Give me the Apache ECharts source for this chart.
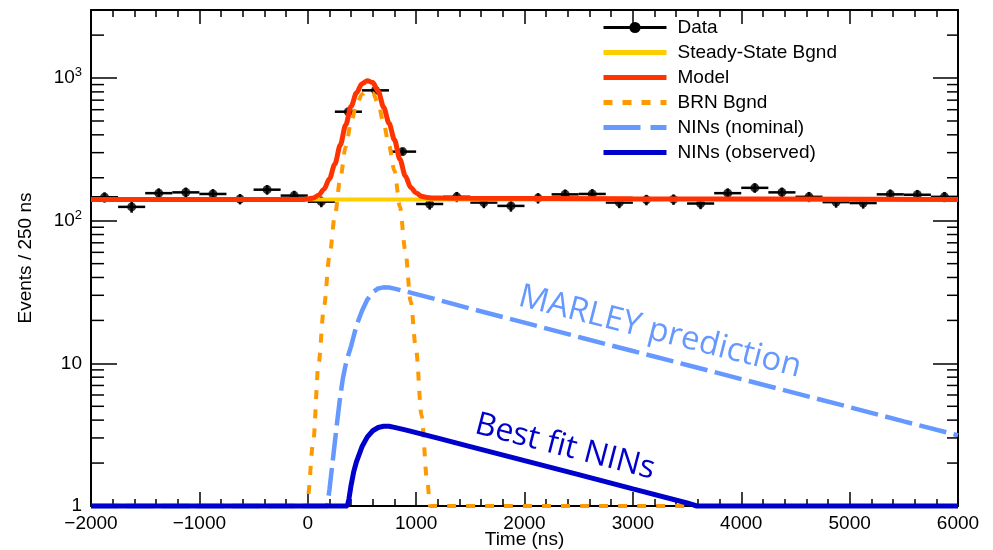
<!DOCTYPE html>
<html>
<head>
<meta charset="utf-8">
<script src="https://cdn.jsdelivr.net/npm/echarts@6/dist/echarts.min.js"></script>
<style>
  html, body { margin: 0; padding: 0; background: #fff; }
  #chart { width: 993px; height: 550px; }
</style>
</head>
<body>
<div id="chart"></div>
<script>
// Time axis range (ns) and event-count range
const X_MIN = -2000, X_MAX = 6000;
const Y_MIN = 1, Y_MAX = 3000;
const xTickStep = 1000;

// Data: 250 ns bins
const binCenters = [-1875, -1625, -1375, -1125, -875, -625, -375, -125,
  125, 375, 625, 875, 1125, 1375, 1625, 1875, 2125, 2375, 2625, 2875,
  3125, 3375, 3625, 3875, 4125, 4375, 4625, 4875, 5125, 5375, 5625, 5875];
const binHalfWidth = 125;
const dataCounts = [146, 125, 156, 158, 154, 142, 165, 150,
  136, 581, 820, 305, 131, 147, 134, 127, 144, 153, 154, 134,
  140, 141, 132, 156, 170, 158, 147, 135, 133, 153, 152, 147];
const dataErrors = [12.1, 11.2, 12.5, 12.6, 12.4, 11.9, 12.8, 12.2,
  11.7, 24.1, 28.6, 17.5, 11.4, 12.1, 11.6, 11.3, 12.0, 12.4, 12.4, 11.6,
  11.8, 11.9, 11.5, 12.5, 13.0, 12.6, 12.1, 11.6, 11.5, 12.4, 12.3, 12.1];

// Steady-state background
const steadyTime = [-2000, 6000];
const steadyValue = [141, 141];

// Full model
const modelTime = [-2000, -50, 0, 50, 100, 150, 200, 250, 300, 350, 400, 450, 500, 550,
  600, 650, 700, 750, 800, 850, 900, 950, 1000, 1050, 1100, 1150, 1200, 1500, 3000, 6000];
const modelValue = [141, 141, 142.2, 144, 151, 166, 197, 249, 339, 469, 634, 788, 913, 959,
  929, 809, 625, 482, 369, 270, 206, 171, 156.6, 148.5, 145.6, 144.5, 144, 143.6, 142.3, 141];

// Beam-related neutron background (floored at the axis minimum)
const brnTime = [-2000, -10, 0, 50, 100, 150, 200, 250, 300, 350, 400, 450, 500, 550,
  600, 650, 700, 750, 800, 850, 900, 950, 1000, 1050, 1100, 1130, 6000];
const brnValue = [1, 1, 1.15, 2.8, 10, 25, 56, 108, 198, 328, 492, 645, 770, 815,
  785, 665, 480, 337, 224, 126, 62, 27, 12.3, 4.3, 1.55, 1, 1];

// NINs, nominal prediction
const ninNomTime = [-2000, 180, 200, 225, 250, 275, 300, 325, 350, 375, 400, 450, 500, 550,
  600, 650, 700, 750, 800, 900, 1000, 1200, 1500, 2000, 2500, 3000, 3500, 4000, 4500, 5000, 5500, 6000];
const ninNomValue = [1, 1, 1.3, 1.9, 2.8, 4.1, 5.9, 7.9, 9.8, 11.5, 13.2, 18.5, 23.3, 28,
  31.5, 33.5, 34.1, 34, 33.4, 32, 30.6, 27.9, 24.2, 19.3, 15.3, 12.2, 9.74, 7.76, 6.18, 4.93, 3.92, 3.13];

// NINs, observed (best fit)
const ninObsTime = [-2000, 365, 380, 400, 425, 450, 500, 550, 600, 650, 700, 750, 800,
  900, 1000, 1200, 1500, 2000, 2500, 3000, 3500, 3590, 6000];
const ninObsValue = [1, 1, 1.12, 1.4, 1.75, 2.05, 2.6, 3.05, 3.37, 3.55, 3.62, 3.62, 3.56,
  3.42, 3.27, 2.99, 2.61, 2.08, 1.66, 1.32, 1.05, 1, 1];

// Minor tick values on the logarithmic axis
const yMinorTicks = [2, 3, 4, 5, 6, 7, 8, 9, 20, 30, 40, 50, 60, 70, 80, 90,
  200, 300, 400, 500, 600, 700, 800, 900, 2000];

const zip = (xs, ys) => xs.map((x, i) => [x, ys[i]]);

const FONT = 'Liberation Sans, Arial, Helvetica, sans-serif';
const BLACK = '#000';

const COLORS = {
  steady: '#ffcc00', model: '#ff3300', brn: '#ff9900', ninNom: '#6699ff', ninObs: '#0000cc'
};
const BRN_DASH = [9, 10];
const NOM_DASH = [37, 10];

const chart = echarts.init(document.getElementById('chart'), null, { renderer: 'canvas' });

function curve(name, xs, ys, color, width, dash, z, smooth) {
  return {
    name, type: 'line', data: zip(xs, ys),
    smooth: smooth || false, smoothMonotone: 'x', symbol: 'none', clip: false, z,
    lineStyle: { color, width, type: dash || 'solid', cap: 'butt' },
    itemStyle: { color }
  };
}

// legend line samples: no marker, thick strokes
const legendLine = (name, color, dash) => ({
  name,
  itemStyle: { opacity: 0 },
  lineStyle: { color, width: 5, type: dash || 'solid', opacity: 1 }
});

const option = {
  animation: false,
  backgroundColor: '#fff',
  textStyle: { fontFamily: FONT },
  grid: { left: 91, right: 35, top: 10, bottom: 44, containLabel: false, outerBoundsMode: 'none' },
  legend: {
    data: [
      { name: 'Data', lineStyle: { color: BLACK, width: 3, type: 'solid' } },
      legendLine('Steady-State Bgnd', COLORS.steady),
      legendLine('Model', COLORS.model),
      legendLine('BRN Bgnd', COLORS.brn, BRN_DASH),
      legendLine('NINs (nominal)', COLORS.ninNom, NOM_DASH),
      legendLine('NINs (observed)', COLORS.ninObs)
    ],
    orient: 'vertical',
    left: 596, top: 13,
    itemWidth: 63, itemHeight: 14, itemGap: 6,
    textStyle: { fontSize: 19, color: BLACK, fontFamily: FONT, padding: [0, 0, 0, 6] },
    selectedMode: false
  },
  xAxis: [{
    type: 'value', min: X_MIN, max: X_MAX, interval: xTickStep,
    name: 'Time (ns)', nameLocation: 'middle', nameGap: 24, nameMoveOverlap: false,
    nameTextStyle: { fontSize: 19, color: BLACK, fontFamily: FONT },
    axisLine: { show: true, onZero: false, lineStyle: { color: BLACK, width: 2 } },
    axisTick: { show: true, inside: true, length: 14, lineStyle: { color: BLACK, width: 1.5 } },
    minorTick: { show: true, splitNumber: 5, length: 7, lineStyle: { color: BLACK, width: 1.5 } },
    axisLabel: {
      fontSize: 19, color: BLACK, margin: 8, fontFamily: FONT,
      showMinLabel: true, showMaxLabel: true,
      formatter: v => String(v).replace('-', '\u2212')
    },
    splitLine: { show: false }
  }, {
    type: 'value', position: 'top', min: X_MIN, max: X_MAX, interval: xTickStep,
    axisLine: { show: true, onZero: false, lineStyle: { color: BLACK, width: 2 } },
    axisTick: { show: true, inside: true, length: 14, lineStyle: { color: BLACK, width: 1.5 } },
    minorTick: { show: true, splitNumber: 5, length: 7, lineStyle: { color: BLACK, width: 1.5 } },
    axisLabel: { show: false },
    splitLine: { show: false }
  }],
  yAxis: [{
    type: 'log', logBase: 10, min: Y_MIN, max: Y_MAX,
    name: 'Events / 250 ns', nameLocation: 'middle', nameRotate: 90, nameGap: 56, nameMoveOverlap: false,
    nameTextStyle: { fontSize: 19, color: BLACK, fontFamily: FONT },
    axisLine: { show: true, onZero: false, lineStyle: { color: BLACK, width: 2 } },
    axisTick: { show: true, inside: true, length: 26, lineStyle: { color: BLACK, width: 1.5 } },
    axisLabel: {
      fontSize: 19, color: BLACK, margin: 9, fontFamily: FONT,
      showMinLabel: true, showMaxLabel: true,
      formatter: v => {
        const e = Math.round(Math.log10(v));
        if (Math.abs(v - Math.pow(10, e)) > 1e-6 * v) return '';
        if (e === 0) return '1';
        if (e === 1) return '10';
        return '10{sup|' + e + '}';
      },
      rich: { sup: { fontSize: 13, verticalAlign: 'top', lineHeight: 24, color: BLACK, fontFamily: FONT } }
    },
    splitLine: { show: false }
  }, {
    type: 'log', logBase: 10, min: Y_MIN, max: Y_MAX, position: 'right',
    axisLine: { show: true, onZero: false, lineStyle: { color: BLACK, width: 2 } },
    axisTick: { show: true, inside: true, length: 25, lineStyle: { color: BLACK, width: 1.5 } },
    axisLabel: { show: false },
    splitLine: { show: false }
  }],
  graphic: [{
    type: 'text', x: 660, y: 332, rotation: -0.2496, z: 100,
    style: {
      text: 'MARLEY prediction', fill: COLORS.ninNom,
      font: '33px "Open Sans"', align: 'center', verticalAlign: 'middle',
      textAlign: 'center', textVerticalAlign: 'middle'
    }
  }, {
    type: 'text', x: 565, y: 447, rotation: -0.253, z: 100,
    style: {
      text: 'Best fit NINs', fill: COLORS.ninObs,
      font: '32px "Open Sans"', align: 'center', verticalAlign: 'middle',
      textAlign: 'center', textVerticalAlign: 'middle'
    }
  }],
  series: [
    // legend entry for the data
    {
      name: 'Data', type: 'line', data: [], symbol: 'circle', symbolSize: 9,
      itemStyle: { color: BLACK }, lineStyle: { color: BLACK, width: 3 }
    },
    // data error bars
    {
      type: 'custom', z: 1, clip: false,
      data: binCenters.map((t, i) => [t, dataCounts[i], dataErrors[i]]),
      renderItem: (params, api) => {
        const t = api.value(0), v = api.value(1), err = api.value(2);
        const l = api.coord([t - binHalfWidth, v]);
        const r = api.coord([t + binHalfWidth, v]);
        const lo = api.coord([t, v - err]);
        const hi = api.coord([t, v + err]);
        const st = { stroke: BLACK, lineWidth: 2.5 };
        return {
          type: 'group', children: [
            { type: 'line', shape: { x1: l[0], y1: l[1], x2: r[0], y2: r[1] }, style: st },
            { type: 'line', shape: { x1: lo[0], y1: lo[1], x2: hi[0], y2: hi[1] }, style: st }
          ]
        };
      }
    },
    // data points
    {
      type: 'scatter', z: 1, data: zip(binCenters, dataCounts),
      symbol: 'circle', symbolSize: 9, itemStyle: { color: BLACK }
    },
    curve('Steady-State Bgnd', steadyTime, steadyValue, COLORS.steady, 4, 'solid', 3),
    curve('Model', modelTime, modelValue, COLORS.model, 5, 'solid', 4, 0.3),
    curve('BRN Bgnd', brnTime, brnValue, COLORS.brn, 4, BRN_DASH, 5, 0.3),
    curve('NINs (nominal)', ninNomTime, ninNomValue, COLORS.ninNom, 4.5, NOM_DASH.map(d => d * 0.75), 6),
    curve('NINs (observed)', ninObsTime, ninObsValue, COLORS.ninObs, 5, 'solid', 7),
    // minor ticks of the log axis, left and right frame
    {
      type: 'custom', z: 10, clip: false, silent: true,
      data: yMinorTicks.map(v => [X_MIN, v]),
      renderItem: (params, api) => {
        const v = api.value(1);
        const a = api.coord([X_MIN, v]);
        const b = api.coord([X_MAX, v]);
        const st = { stroke: BLACK, lineWidth: 1.5 };
        return {
          type: 'group', children: [
            { type: 'line', shape: { x1: a[0], y1: a[1], x2: a[0] + 13, y2: a[1] }, style: st },
            { type: 'line', shape: { x1: b[0] - 11, y1: b[1], x2: b[0], y2: b[1] }, style: st }
          ]
        };
      }
    }
  ]
};

chart.setOption(option);
</script>
</body>
</html>
